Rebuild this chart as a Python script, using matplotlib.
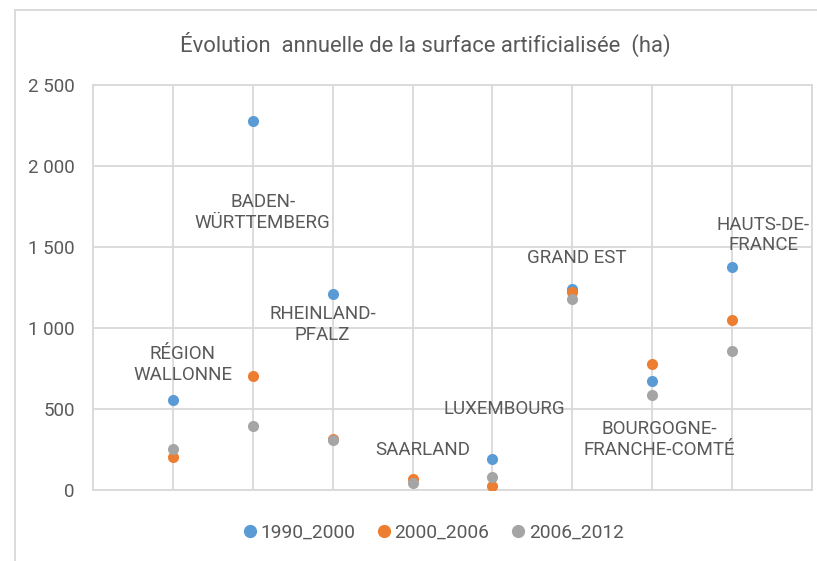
import matplotlib
matplotlib.use('Agg')
import matplotlib.pyplot as plt
from matplotlib.lines import Line2D
from matplotlib.ticker import FuncFormatter

# regions (x positions 1..8) and yearly values in ha
regions = ['RÉGION\nWALLONNE', 'BADEN-\nWÜRTTEMBERG', 'RHEINLAND-\nPFALZ', 'SAARLAND',
           'LUXEMBOURG', 'GRAND EST', 'BOURGOGNE-\nFRANCHE-COMTÉ', 'HAUTS-DE-\nFRANCE']
s1990_2000 = [555, 2280, 1208, None, 191, 1239, 671, 1375]
s2000_2006 = [205, 704, 313, 66, 27, 1220, 778, 1049]
s2006_2012 = [251, 397, 310, 41, 82, 1177, 586, 860]
series_names = ['1990_2000', '2000_2006', '2006_2012']

# where each region label sits (data coords)
label_x = [1.125, 2.125, 2.875, 4.125, 5.15, 6.05, 7.09, 8.39]
label_y = [775, 1713, 1022, 247, 500, 1432, 312, 1574]

colors = ['#5B9BD5', '#ED7D31', '#A5A5A5']
grid_c = '#D9D9D9'
text_c = '#595959'

plt.rcParams['font.family'] = ['Roboto', 'DejaVu Sans']

fig = plt.figure(figsize=(8.17, 5.61), dpi=100)
ax = fig.add_axes([0.1138, 0.1266, 0.88, 0.7219])

xs = list(range(1, len(regions) + 1))
all_series = [s1990_2000, s2000_2006, s2006_2012]
for vals, c, name in zip(all_series, colors, series_names):
    px = [x for x, v in zip(xs, vals) if v is not None]
    py = [v for v in vals if v is not None]
    ax.scatter(px, py, s=64, color=c, zorder=3, label=name, linewidths=0)

for lx, ly, name in zip(label_x, label_y, regions):
    ax.text(lx, ly, name, ha='center', va='center', fontsize=13.5,
            color=text_c, linespacing=1.2, zorder=4)

ax.set_xlim(0, 9)
ax.set_ylim(0, 2500)
ax.set_xticks(range(0, 10))
ax.set_yticks(range(0, 2501, 500))
ax.yaxis.set_major_formatter(FuncFormatter(lambda v, p: f'{int(v):,}'.replace(',', ' ')))
ax.tick_params(axis='x', labelbottom=False, length=0)
ax.tick_params(axis='y', length=0, labelsize=13.5, labelcolor=text_c, pad=13)
ax.grid(True, color=grid_c, linewidth=1.3, zorder=0)
for sp in ax.spines.values():
    sp.set_color(grid_c)
    sp.set_linewidth(1.3)

fig.text(0.521, 0.921, 'Évolution  annuelle de la surface artificialisée  (ha)',
         ha='center', va='center', fontsize=15.8, color=text_c)

handles = [Line2D([], [], marker='o', linestyle='', color=c, markersize=8.5)
           for c in colors]
fig.legend(handles, series_names, loc='center', bbox_to_anchor=(0.528, 0.05),
           ncol=3, frameon=False, fontsize=13.8, handletextpad=0.0,
           columnspacing=0.95, labelcolor=text_c, handlelength=1.1)

# outer chart frame, cropped on the right and bottom
fig.add_artist(Line2D([0.018, 0.018], [0, 0.982], color=grid_c, linewidth=1.3,
                      transform=fig.transFigure))
fig.add_artist(Line2D([0.018, 1.0], [0.982, 0.982], color=grid_c, linewidth=1.3,
                      transform=fig.transFigure))

fig.savefig('out.png', dpi=100)
